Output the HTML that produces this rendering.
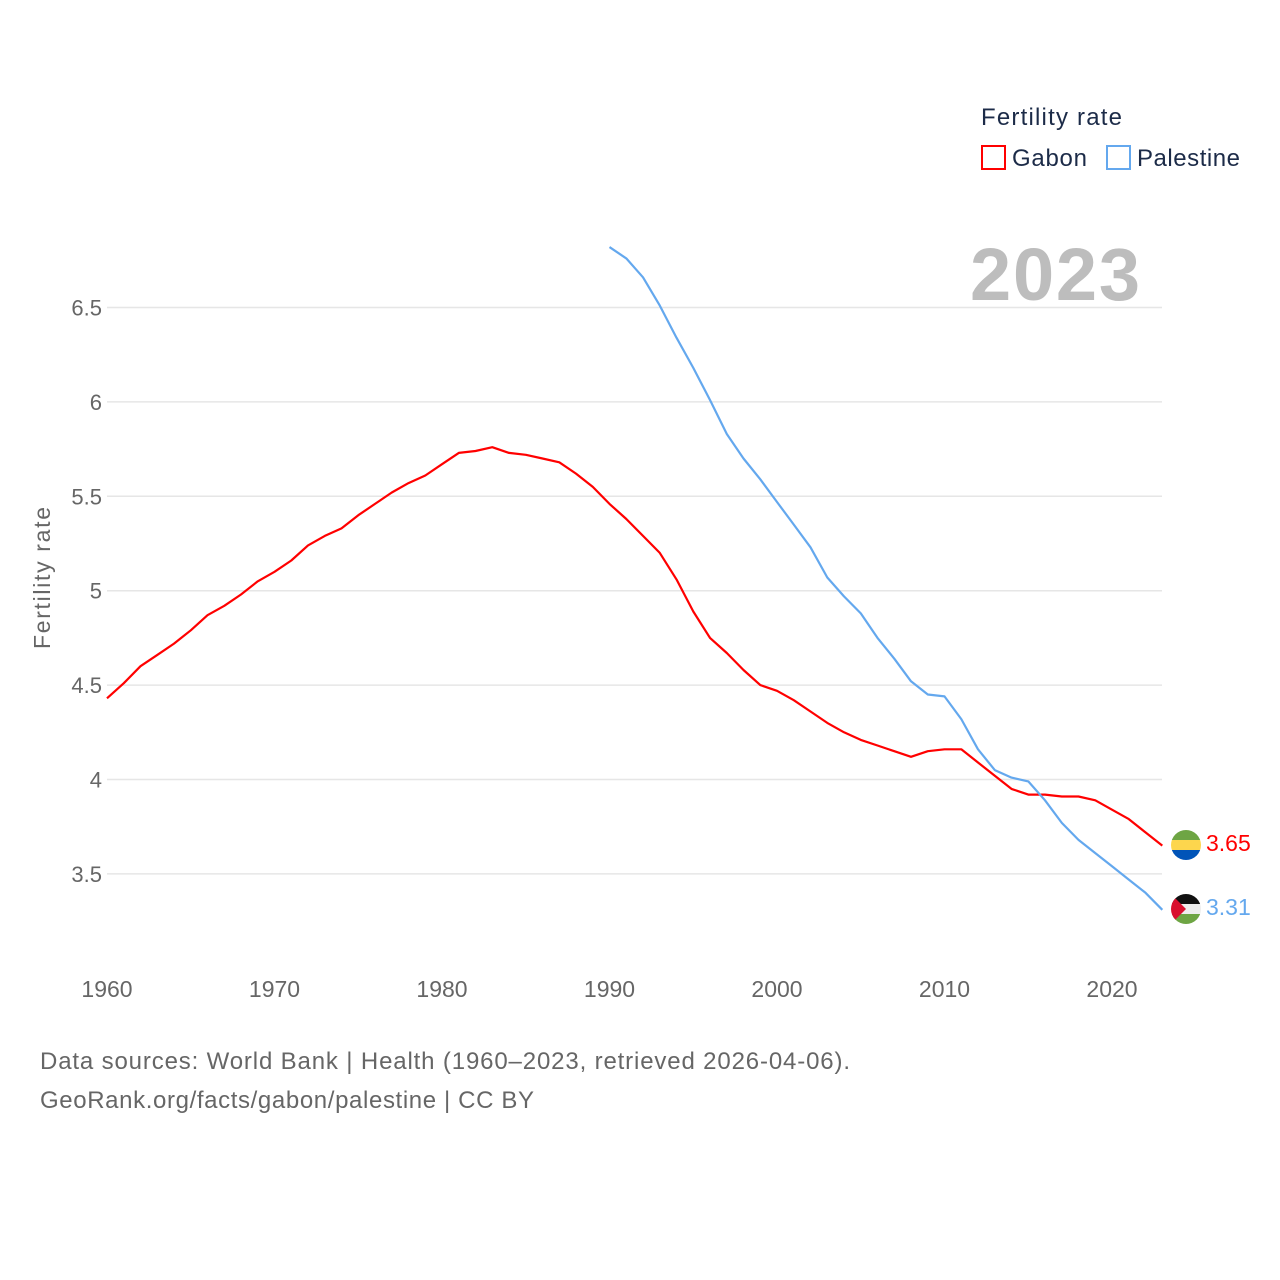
<!DOCTYPE html>
<html><head><meta charset="utf-8"><style>
body{margin:0;background:#fff;}
svg{display:block;font-family:"Liberation Sans",sans-serif;}
</style></head><body>
<svg id="chart" width="1280" height="1280" viewBox="0 0 1280 1280">
<rect width="1280" height="1280" fill="#fff"/>
<g id="grid"></g>
<g id="yticks" font-size="22" fill="#666" text-anchor="end"></g>
<g id="xticks" font-size="23" fill="#666" text-anchor="middle"></g>
<text transform="translate(50,578) rotate(-90)" text-anchor="middle" font-size="23" fill="#666" textLength="142">Fertility rate</text>
<text x="1140" y="300" text-anchor="end" font-size="74" font-weight="bold" fill="#bdbdbd" textLength="170">2023</text>
<g id="lines"></g>
<g>
<text x="981" y="125" font-size="24" fill="#1c2b48" textLength="141">Fertility rate</text>
<rect x="982" y="146" width="23" height="23" fill="none" stroke="#ff0000" stroke-width="2"/>
<text x="1012" y="166" font-size="24" fill="#1c2b48" textLength="75">Gabon</text>
<rect x="1107" y="146" width="23" height="23" fill="none" stroke="#64a8ee" stroke-width="2"/>
<text x="1137" y="166" font-size="24" fill="#1c2b48" textLength="103">Palestine</text>
</g>
<defs>
<clipPath id="cg"><circle cx="1186" cy="845" r="15"/></clipPath>
<clipPath id="cp"><circle cx="1186" cy="909" r="15"/></clipPath>
</defs>
<g clip-path="url(#cg)">
<rect x="1171" y="830" width="30" height="10" fill="#6ea544"/>
<rect x="1171" y="840" width="30" height="10" fill="#fdd64d"/>
<rect x="1171" y="850" width="30" height="10" fill="#0054b8"/>
</g>
<g clip-path="url(#cp)">
<rect x="1171" y="894" width="30" height="10" fill="#111"/>
<rect x="1171" y="904" width="30" height="10" fill="#eee"/>
<rect x="1171" y="914" width="30" height="10" fill="#6ea544"/>
<polygon points="1171,894 1186,909 1171,924" fill="#d9102e"/>
</g>
<text id="lab-g" x="1206" y="851" font-size="23" fill="#ff0000">3.65</text>
<text id="lab-p" x="1206" y="915" font-size="23" fill="#64a8ee">3.31</text>
<text x="40" y="1069" font-size="24" fill="#666" textLength="810">Data sources: World Bank | Health (1960–2023, retrieved 2026-04-06).</text>
<text x="40" y="1108" font-size="24" fill="#666" textLength="494">GeoRank.org/facts/gabon/palestine | CC BY</text>
</svg>
<script>
const yTicks=[3.5,4,4.5,5,5.5,6,6.5];
const xTicks=[1960,1970,1980,1990,2000,2010,2020];
const gabonStart=1960;
const gabon=[4.43,4.51,4.60,4.66,4.72,4.79,4.87,4.92,4.98,5.05,5.10,5.16,5.24,5.29,5.33,5.40,5.46,5.52,5.57,5.61,5.67,5.73,5.74,5.76,5.73,5.72,5.70,5.68,5.62,5.55,5.46,5.38,5.29,5.20,5.06,4.89,4.75,4.67,4.58,4.50,4.47,4.42,4.36,4.30,4.25,4.21,4.18,4.15,4.12,4.15,4.16,4.16,4.09,4.02,3.95,3.92,3.92,3.91,3.91,3.89,3.84,3.79,3.72,3.65];
const palestineStart=1990;
const palestine=[6.82,6.76,6.66,6.51,6.34,6.18,6.01,5.83,5.70,5.59,5.47,5.35,5.23,5.07,4.97,4.88,4.75,4.64,4.52,4.45,4.44,4.32,4.16,4.05,4.01,3.99,3.89,3.77,3.68,3.61,3.54,3.47,3.40,3.31];
const NS='http://www.w3.org/2000/svg';
const xs=y=>107+(y-1960)*(1112-107)/60;
const ys=v=>307.5+(6.5-v)*188.8;
function mk(tag,attrs,parent){const e=document.createElementNS(NS,tag);for(const k in attrs)e.setAttribute(k,attrs[k]);document.getElementById(parent).appendChild(e);return e;}
yTicks.forEach(t=>{
 const l=mk('line',{x1:107,x2:1162,y1:ys(t),y2:ys(t),stroke:'#e6e6e6','stroke-width':1.5},'grid');
 
 
 const tx=mk('text',{x:102,y:ys(t)+8},'yticks');tx.textContent=String(t);
 
 
});
xTicks.forEach(t=>{
 const tx=mk('text',{x:xs(t),y:997},'xticks');tx.textContent=String(t);
 
 
});
function path(arr,start){return arr.map((v,i)=>(i?'L':'M')+xs(start+i).toFixed(1)+','+ys(v).toFixed(1)).join('');}
const pg=mk('path',{d:path(gabon,gabonStart),fill:'none',stroke:'#ff0000','stroke-width':2.2,'stroke-linejoin':'round'},'lines');


const pp=mk('path',{d:path(palestine,palestineStart),fill:'none',stroke:'#64a8ee','stroke-width':2.2,'stroke-linejoin':'round'},'lines');


document.getElementById('lab-g').textContent=gabon[gabon.length-1].toFixed(2);
document.getElementById('lab-p').textContent=palestine[palestine.length-1].toFixed(2);
</script>
</body></html>
